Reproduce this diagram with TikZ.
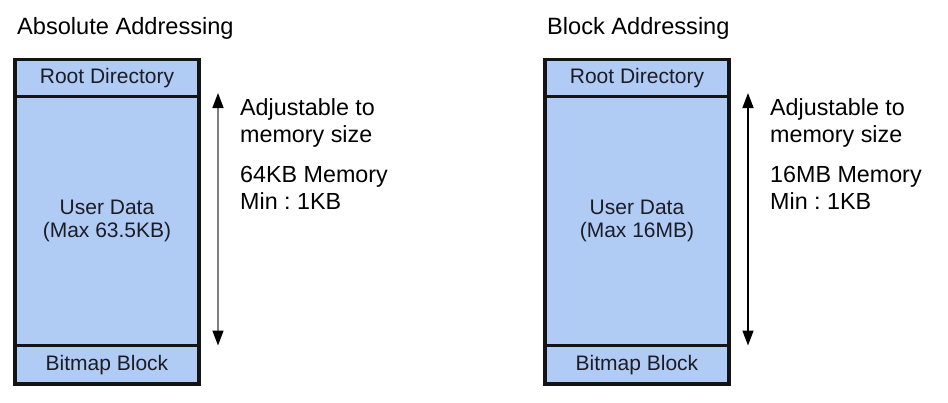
\documentclass[tikz,border=0pt]{standalone}
\usepackage{fontspec}
\setmainfont{Liberation Sans}
\usetikzlibrary{arrows.meta,chains,positioning}
\frenchspacing

\definecolor{cellblue}{RGB}{176,204,245}
\definecolor{celltext}{RGB}{28,28,38}
\definecolor{lineblack}{RGB}{20,20,20}

\begin{document}
\begin{tikzpicture}[
  x=1pt, y=1pt,
  node distance = 0pt,
MyBox/.style={draw=lineblack, line width=3.8pt, fill=cellblue,
              minimum width=184pt, outer sep=0pt, inner sep=0pt,
              text=celltext, align=center,
              font=\fontsize{21}{23.5}\selectfont},
MyNote/.style={anchor=base west, align=left, inner sep=0pt,
               font=\fontsize{23.3}{26.5}\selectfont},
MyTitle/.style={anchor=base west, inner sep=0pt,
                font=\fontsize{23.6}{27}\selectfont},
MyArrow/.style={line width=1.5pt,
  {Triangle[length=15pt, width=11pt, color=black]}-{Triangle[length=15pt, width=11pt, color=black]}},
  ]
\useasboundingbox (0,0) rectangle (948,-402);

% absolute addressing
\node [MyTitle] (ltitle) at (17,-34) {Absolute Addressing};
\begin{scope}[start chain = L going below]
\node [MyBox, on chain = L, minimum height=37pt, anchor=north west] (lroot) at (15,-59.5) {\raisebox{-1.5pt}{Root Directory}};
\node [MyBox, on chain = L, minimum height=249pt] (luser) {User Data\\(Max 63.5KB)};
\node [MyBox, on chain = L, minimum height=38.5pt] (lbitmap) {\raisebox{-1.5pt}{Bitmap Block}};
\end{scope}

\coordinate [xshift=19pt, yshift=3.5pt] (la1) at (luser.north east);
\coordinate [xshift=19pt] (la2) at (luser.south east);
\draw [MyArrow, draw=gray] (la1) -- (la2);

\node [MyNote] (lnote1) at (240,-142) {Adjustable to\\memory size};
\node [MyNote] (lnote2) at (240,-209) {64KB Memory\\Min : 1KB};

% block addressing
\node [MyTitle] (rtitle) at (547,-34) {Block Addressing};
\begin{scope}[start chain = R going below]
\node [MyBox, on chain = R, minimum height=37pt, anchor=north west] (rroot) at (545,-59.5) {\raisebox{-1.5pt}{Root Directory}};
\node [MyBox, on chain = R, minimum height=249pt] (ruser) {User Data\\(Max 16MB)};
\node [MyBox, on chain = R, minimum height=38.5pt] (rbitmap) {\raisebox{-1.5pt}{Bitmap Block}};
\end{scope}

\coordinate [xshift=19pt, yshift=3.5pt] (ra1) at (ruser.north east);
\coordinate [xshift=19pt] (ra2) at (ruser.south east);
\draw [MyArrow, draw=black] (ra1) -- (ra2);

\node [MyNote] (rnote1) at (770,-142) {Adjustable to\\memory size};
\node [MyNote] (rnote2) at (770,-209) {16MB Memory\\Min : 1KB};
\end{tikzpicture}
\end{document}
